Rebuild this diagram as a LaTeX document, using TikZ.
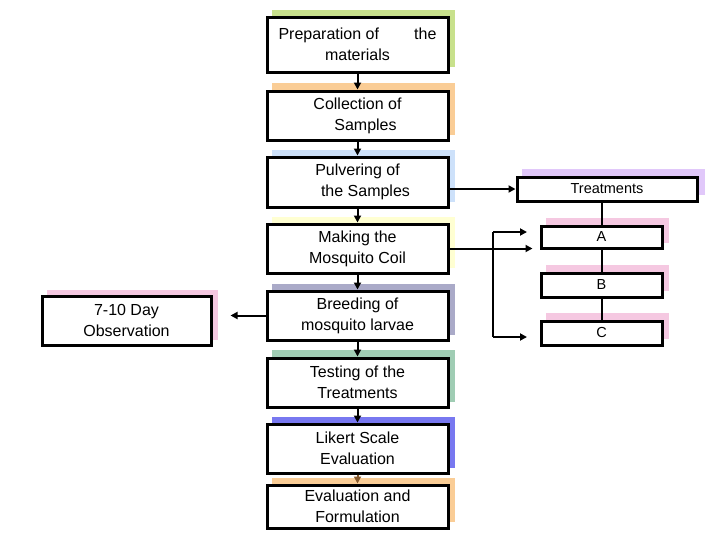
\documentclass[tikz,border=0pt]{standalone}
\usepackage{fontspec}
\setmainfont{Liberation Sans}
\usetikzlibrary{arrows.meta}
\definecolor{shgreen}{RGB}{200,225,140}
\definecolor{shorange}{RGB}{250,205,150}
\definecolor{shblue}{RGB}{205,225,250}
\definecolor{shyellow}{RGB}{255,255,210}
\definecolor{shgray}{RGB}{170,170,200}
\definecolor{shteal}{RGB}{160,205,180}
\definecolor{shviolet}{RGB}{120,120,240}
\definecolor{shpink}{RGB}{245,200,225}
\definecolor{shlav}{RGB}{225,200,250}
\begin{document}
\begin{tikzpicture}[x=1pt,y=-1pt,
  box/.style={draw=black,line width=3pt,fill=white,inner sep=0pt,align=center,
    font=\fontsize{16}{21}\selectfont},
  small/.style={draw=black,line width=3pt,fill=white,inner sep=0pt,align=center,
    font=\fontsize{14.5}{17}\selectfont},
  arr/.style={line width=2pt,-{Triangle[length=7pt,width=7pt]}},
  link/.style={line width=2pt}]
\useasboundingbox (0,0) rectangle (728,546);
% shadows
\fill [shgreen] (272,10) rectangle (455,67);
\fill [shorange] (272,83) rectangle (455,135);
\fill [shblue] (272,150) rectangle (455,202);
\fill [shyellow] (272,217) rectangle (455,268);
\fill [shgray] (272,284) rectangle (455,335);
\fill [shteal] (272,350) rectangle (455,402);
\fill [shviolet] (272,417) rectangle (455,468);
\fill [shorange] (272,478) rectangle (455,522);
\fill [shpink] (47,290) rectangle (218,340);
\fill [shlav] (522,169) rectangle (705,195);
\fill [shpink] (546,218) rectangle (669,243);
\fill [shpink] (546,265) rectangle (669,291);
\fill [shpink] (546,313) rectangle (669,339);
% main column
\node [box,minimum width=181pt,minimum height=55pt] (prep) at (357.5,44.5)
  {Preparation of\hspace{2.2em}the\\materials};
\node [box,minimum width=181pt,minimum height=49pt] (coll) at (357.5,115.5)
  {Collection of\hspace{1em}\\\hspace{1em}Samples};
\node [box,minimum width=181pt,minimum height=50pt] (pulv) at (357.5,182)
  {Pulvering of\hspace{2em}\\\hspace{1em}the Samples};
\node [box,minimum width=181pt,minimum height=49pt] (coil) at (357.5,248.5)
  {Making the\hspace{2em}\\Mosquito Coil};
\node [box,minimum width=181pt,minimum height=49pt] (breed) at (357.5,315.5)
  {Breeding of\\mosquito larvae};
\node [box,minimum width=181pt,minimum height=49pt] (test) at (357.5,382.5)
  {Testing of the\\Treatments};
\node [box,minimum width=181pt,minimum height=49pt] (likert) at (357.5,448.5)
  {Likert Scale\\Evaluation};
\node [box,minimum width=181pt,minimum height=43pt] (form) at (357.5,506.5)
  {Evaluation and\\Formulation};
\node [box,minimum width=169pt,minimum height=49pt] (obs) at (126.5,320.5)
  {7-10 Day\\Observation};
% treatments
\node [small,minimum width=180pt,minimum height=24pt] (treat) at (607,189) {Treatments};
\node [small,minimum width=121pt,minimum height=22pt] (ta) at (601.5,237) {A};
\node [small,minimum width=121pt,minimum height=24pt] (tb) at (601.5,285) {B};
\node [small,minimum width=121pt,minimum height=24pt] (tc) at (601.5,333) {C};
\coordinate (ftop) at (493,232);
\coordinate (fbot) at (493,337);
% connectors
\draw [arr] (prep) -- (coll);
\draw [arr] (coll) -- (pulv);
\draw [arr] (pulv) -- (coil);
\draw [arr] (coil) -- (breed);
\draw [arr] (breed) -- (test);
\draw [arr] (test) -- (likert);
\draw [arr,color=brown!70!black] (likert) -- (form);
\draw [arr] (breed.west) -- ++(-35,0);
\draw [arr] (pulv.east |- treat.west) -- (treat.west);
\draw [arr] (coil.east) -- ++(83,0);
\draw [link] (ftop) -- (fbot);
\draw [arr] (ftop) -- ++(34,0);
\draw [arr] (fbot) -- ++(34,0);
\draw [link] (treat.south -| ta) -- (ta.north);
\draw [link] (ta) -- (tb);
\draw [link] (tb) -- (tc);
\end{tikzpicture}
\end{document}
